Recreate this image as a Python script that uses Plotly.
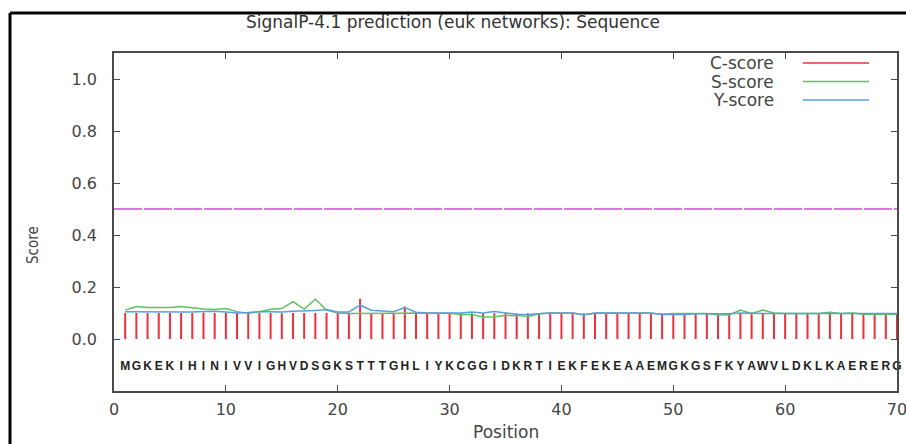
import plotly.graph_objects as go

# ---- data ----
sequence = "MGKEKIHINIVVIGHVDSGKSTTTGHLIYKCGGIDKRTIEKFEKEAAEMGKGSFKYAWVLDKLKAERERG"
positions = list(range(1, 71))

c_score = [0.100, 0.100, 0.100, 0.100, 0.100, 0.100, 0.100, 0.102, 0.100, 0.100,
           0.100, 0.101, 0.100, 0.100, 0.099, 0.100, 0.100, 0.100, 0.100, 0.100,
           0.099, 0.155, 0.100, 0.100, 0.100, 0.125, 0.100, 0.100, 0.099, 0.099,
           0.099, 0.099, 0.099, 0.099, 0.099, 0.099, 0.099, 0.099, 0.099, 0.099,
           0.099, 0.099, 0.099, 0.099, 0.099, 0.098, 0.098, 0.098, 0.098, 0.098,
           0.098, 0.098, 0.098, 0.098, 0.098, 0.098, 0.098, 0.098, 0.098, 0.098,
           0.098, 0.098, 0.098, 0.098, 0.098, 0.098, 0.098, 0.098, 0.098, 0.098]

s_score = [0.111, 0.125, 0.121, 0.121, 0.121, 0.125, 0.119, 0.115, 0.113, 0.117,
           0.105, 0.099, 0.105, 0.114, 0.117, 0.144, 0.115, 0.153, 0.111, 0.100,
           0.098, 0.098, 0.097, 0.097, 0.097, 0.099, 0.100, 0.100, 0.100, 0.099,
           0.094, 0.094, 0.085, 0.086, 0.090, 0.091, 0.087, 0.097, 0.100, 0.100,
           0.100, 0.092, 0.099, 0.100, 0.100, 0.100, 0.099, 0.099, 0.095, 0.098,
           0.098, 0.098, 0.098, 0.092, 0.093, 0.111, 0.098, 0.111, 0.100, 0.098,
           0.098, 0.098, 0.098, 0.103, 0.098, 0.100, 0.095, 0.095, 0.095, 0.095]

y_score = [0.105, 0.105, 0.103, 0.105, 0.104, 0.105, 0.104, 0.106, 0.107, 0.104,
           0.100, 0.102, 0.105, 0.105, 0.104, 0.107, 0.108, 0.110, 0.113, 0.104,
           0.104, 0.130, 0.111, 0.108, 0.105, 0.121, 0.103, 0.100, 0.100, 0.100,
           0.100, 0.104, 0.100, 0.106, 0.100, 0.095, 0.094, 0.097, 0.100, 0.100,
           0.100, 0.093, 0.100, 0.100, 0.100, 0.100, 0.100, 0.100, 0.094, 0.094,
           0.094, 0.097, 0.097, 0.097, 0.097, 0.100, 0.098, 0.098, 0.098, 0.098,
           0.098, 0.098, 0.098, 0.098, 0.098, 0.098, 0.098, 0.098, 0.098, 0.098]

threshold = 0.5
x_ticks = [0, 10, 20, 30, 40, 50, 60, 70]
y_ticks = [0.0, 0.2, 0.4, 0.6, 0.8, 1.0]
legend_names = ["C-score", "S-score", "Y-score"]

RED = "#e8323c"
GREEN = "#5cc45c"
BLUE = "#5a9fdc"
MAGENTA = "#d846d8"
FRAME = "#4a4a4a"
TXT = "#444444"
WIDE = "DejaVu Sans, Verdana, sans-serif"

# plot area in page pixels: x 114..897, y 53..391
W, H = 906, 444

fig = go.Figure()

# threshold line
fig.add_trace(go.Scatter(x=[0, 70], y=[threshold, threshold], mode="lines",
                         line=dict(color=MAGENTA, width=1.5, dash="28px,2px"),
                         hoverinfo="skip", showlegend=False))

# C-score impulses
cx, cy = [], []
for p, v in zip(positions, c_score):
    cx += [p, p, None]
    cy += [0, v, None]
fig.add_trace(go.Scatter(x=cx, y=cy, mode="lines", line=dict(color=RED, width=2),
                         name="C-score", showlegend=False))

fig.add_trace(go.Scatter(x=positions, y=s_score, mode="lines",
                         line=dict(color=GREEN, width=1.5), name="S-score", showlegend=False))
fig.add_trace(go.Scatter(x=positions, y=y_score, mode="lines",
                         line=dict(color=BLUE, width=1.5), name="Y-score", showlegend=False))

# sequence letters
fig.add_trace(go.Scatter(x=positions, y=[-0.108] * len(positions), mode="text",
                         text=list(sequence),
                         textfont=dict(family="Liberation Sans", size=12, color="#222222",
                                       weight="bold"),
                         hoverinfo="skip", showlegend=False, cliponaxis=False))

fig.update_layout(
    width=W, height=H,
    margin=dict(l=114, r=9, t=53, b=53, autoexpand=False),
    paper_bgcolor="white", plot_bgcolor="white",
    font=dict(family=WIDE, color=TXT),
    showlegend=False,
    title=dict(text="SignalP-4.1 prediction (euk networks): Sequence",
               x=453 / W, xref="container", y=1 - 22 / H, yref="container",
               xanchor="center", yanchor="middle",
               font=dict(size=17, color="#333333", family=WIDE)),
)

fig.update_xaxes(range=[0, 70], tickvals=x_ticks, ticktext=[str(v) for v in x_ticks],
                 ticks="inside", ticklen=6, tickcolor=FRAME, tickwidth=1,
                 showline=True, linecolor=FRAME, linewidth=1.5, mirror="ticks",
                 showgrid=False, zeroline=False, automargin=False,
                 ticklabeloverflow="allow",
                 tickfont=dict(size=16, color=TXT, family=WIDE), ticklabelstandoff=3)
fig.update_yaxes(range=[-0.2, 1.1], tickvals=y_ticks, ticktext=[f"{v:.1f}" for v in y_ticks],
                 ticks="inside", ticklen=6, tickcolor=FRAME, tickwidth=1,
                 showline=True, linecolor=FRAME, linewidth=1.5, mirror="ticks",
                 showgrid=False, zeroline=False, automargin=False,
                 tickfont=dict(size=16, color=TXT, family=WIDE), ticklabelstandoff=12)

# axis titles
fig.add_annotation(text="Position", xref="paper", yref="paper",
                   x=0.5, y=(391 - 432) / 338, xanchor="center", yanchor="middle",
                   showarrow=False, font=dict(size=17, color=TXT, family=WIDE))
fig.add_annotation(text="Score", xref="paper", yref="paper",
                   x=(33 - 114) / 783, y=(391 - 245) / 338, xanchor="center", yanchor="middle",
                   textangle=-90, showarrow=False,
                   font=dict(size=15, color=TXT, family="Liberation Sans Narrow, DejaVu Sans Condensed, sans-serif"))

# gnuplot-style legend: text then line sample
legend_colors = [RED, GREEN, BLUE]
for i, (name, col) in enumerate(zip(legend_names, legend_colors)):
    py = 63 + i * 18.5
    yp = (391 - py) / 338
    fig.add_annotation(text=name, xref="paper", yref="paper",
                       x=(776 - 114) / 783, y=yp, xanchor="right", yanchor="middle",
                       showarrow=False, font=dict(size=17, color=TXT, family=WIDE))
    fig.add_shape(type="line", xref="paper", yref="paper",
                  x0=(803 - 114) / 783, x1=(869 - 114) / 783, y0=yp, y1=yp,
                  line=dict(color=col, width=1.5))

# outer border (top and left edges visible in the reference)
bx = (10 - 114) / 783
by = (391 - 13) / 338
fig.add_shape(type="line", xref="paper", yref="paper", x0=bx, x1=(906 - 114) / 783,
              y0=by, y1=by, line=dict(color="black", width=3), layer="above")
fig.add_shape(type="line", xref="paper", yref="paper", x0=bx, x1=bx,
              y0=by, y1=(391 - 444) / 338, line=dict(color="black", width=3), layer="above")

fig.write_html("out.html", config={"displayModeBar": False},
               post_script="document.body.style.margin='0';"
                           "document.body.style.overflow='hidden';")
